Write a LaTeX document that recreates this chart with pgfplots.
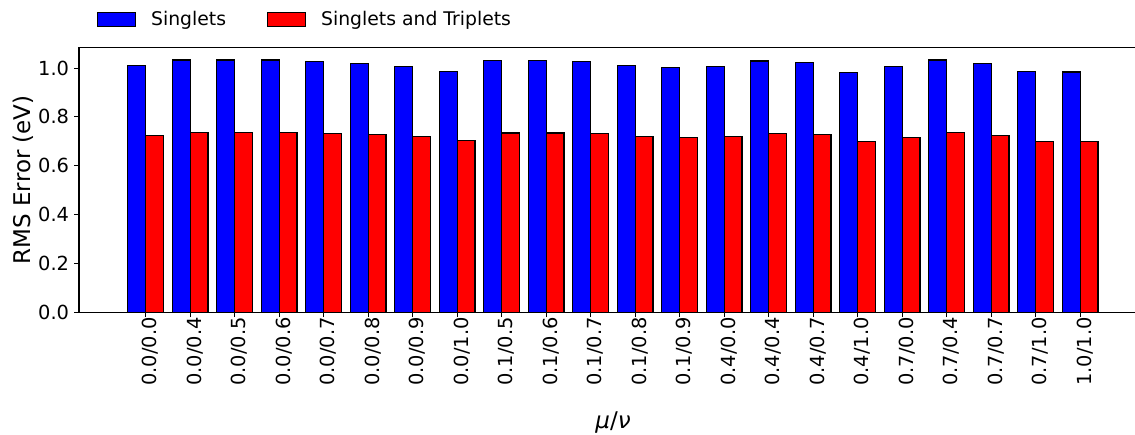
\documentclass[border=0pt]{standalone}
\usepackage{fontspec}
\setmainfont{DejaVu Sans}
\usepackage{pgfplots}
\pgfplotsset{compat=1.18}

% RMS error per mu/nu setting (index 0..21)
\pgfplotstableread{
idx  sing   singtrip
0    1.012  0.723
1    1.033  0.737
2    1.033  0.737
3    1.033  0.737
4    1.027  0.733
5    1.020  0.727
6    1.005  0.719
7    0.986  0.704
8    1.031  0.734
9    1.031  0.734
10   1.026  0.731
11   1.011  0.721
12   1.004  0.717
13   1.007  0.719
14   1.029  0.731
15   1.022  0.727
16   0.980  0.698
17   1.005  0.716
18   1.033  0.735
19   1.019  0.724
20   0.985  0.701
21   0.984  0.701
}\rmsdata

\newcommand{\tickfont}{\fontsize{19.4}{23}\selectfont}
\newcommand{\legfont}{\fontsize{18.8}{22}\selectfont}
\newcommand{\labfont}{\fontsize{23}{28}\selectfont}

\begin{document}
\begin{tikzpicture}
\begin{axis}[
  at={(0,0)}, anchor=south west,
  scale only axis,
  width=1068pt, height=265pt,
  xmin=-1.5, xmax=22.5,
  ymin=0, ymax=1.085,
  ybar, bar width=0.4,
  xtick={0,...,21},
  xticklabels={0.0/0.0,0.0/0.4,0.0/0.5,0.0/0.6,0.0/0.7,0.0/0.8,0.0/0.9,0.0/1.0,
               0.1/0.5,0.1/0.6,0.1/0.7,0.1/0.8,0.1/0.9,0.4/0.0,0.4/0.4,0.4/0.7,
               0.4/1.0,0.7/0.0,0.7/0.4,0.7/0.7,0.7/1.0,1.0/1.0},
  ytick={0,0.2,0.4,0.6,0.8,1.0},
  xtick pos=left, ytick pos=left,
  tick align=outside,
  major tick length=4.86pt,
  tick style={black, line width=1.1pt},
  axis line style={black, line width=1.1pt},
  tick label style={font=\tickfont},
  x tick label style={rotate=90, anchor=east, inner sep=0pt, xshift=0pt, yshift=-4.86pt},
  y tick label style={inner sep=0pt, xshift=-4.86pt,
    /pgf/number format/.cd, fixed, fixed zerofill, precision=1, assume math mode=true},
  ylabel={RMS Error (eV)},
  xlabel={\textit{μ}/\textit{ν}},
  every axis y label/.style={at={(axis description cs:-0.0524,0.5)}, rotate=90, anchor=center, font=\labfont},
  every axis x label/.style={at={(axis description cs:0.5,-0.415)}, anchor=center, font=\labfont},
  legend columns=2,
  legend style={draw=none, fill=none,
    at={(axis description cs:0.01685,1.105)}, anchor=west,
    inner sep=0pt, outer sep=0pt, font=\legfont,
    nodes={inner sep=0pt},
    /tikz/every odd column/.append style={column sep=15pt},
    /tikz/every even column/.append style={column sep=41pt}},
]
\addplot[fill=blue, draw=black, line width=1.1pt, bar shift=-0.2,
  legend image code/.code={\draw[fill=blue, draw=black, line width=1.1pt] (0pt,-7pt) rectangle (38pt,7pt);}]
  table[x=idx, y=sing] {\rmsdata};
\addplot[fill=red, draw=black, line width=1.1pt, bar shift=0.2,
  legend image code/.code={\draw[fill=red, draw=black, line width=1.1pt] (0pt,-7pt) rectangle (38pt,7pt);}]
  table[x=idx, y=singtrip] {\rmsdata};
\legend{Singlets, Singlets and Triplets}
\end{axis}
\pgfresetboundingbox
\path (-79pt,-122.7pt) rectangle (1056pt,312.3pt);
\end{tikzpicture}
\end{document}
